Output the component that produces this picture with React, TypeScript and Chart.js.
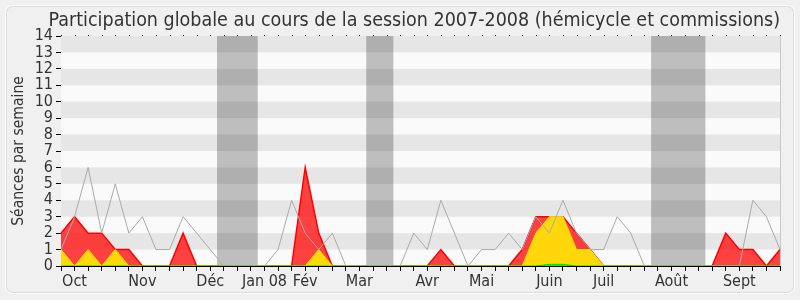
import React, { useEffect, useRef } from 'react';
import { Chart, registerables } from 'chart.js';

Chart.register(...registerables);

const FONT = "'DejaVu Sans Condensed', 'DejaVu Sans', sans-serif";

const titleText = 'Participation globale au cours de la session 2007-2008 (hémicycle et commissions)';
const yAxisTitle = 'Séances par semaine';

// 54 weeks of the session (index 0 .. 53)
const weekCount = 54;
const monthNames = ['Oct', 'Nov', 'Déc', 'Jan 08', 'Fév', 'Mar', 'Avr', 'Mai', 'Juin', 'Juil', 'Août', 'Sept'];
const monthWeekIndex = [1, 6, 11, 15, 18, 22, 27, 31, 36, 40, 45, 50];
const yTickValues = [0, 1, 2, 3, 4, 5, 6, 7, 8, 9, 10, 11, 12, 13, 14];

// holidays (in week index units)
const vacationStart = [11.5, 22.5, 43.5];
const vacationEnd = [14.5, 24.5, 47.5];

// red: total presence (hémicycle + commissions)
const totalPresence = [
  2, 3, 2, 2, 1, 1, 0, 0, 0, 2,
  0, 0, 0, 0, 0, 0, 0, 0, 6, 2,
  0, 0, 0, 0, 0, 0, 0, 0, 1, 0,
  0, 0, 0, 0, 1, 3, 3, 3, 2, 1,
  0, 0, 0, 0, 0, 0, 0, 0, 0, 2,
  1, 1, 0, 1,
];
// yellow: commission presence
const commissionPresence = [
  1, 0, 1, 0, 1, 0, 0, 0, 0, 0,
  0, 0, 0, 0, 0, 0, 0, 0, 0, 1,
  0, 0, 0, 0, 0, 0, 0, 0, 0, 0,
  0, 0, 0, 0, 0, 2, 3, 3, 1, 1,
  0, 0, 0, 0, 0, 0, 0, 0, 0, 0,
  0, 0, 0, 0,
];
// green: hémicycle interventions
const hemicycleInterventions = [
  0, 0, 0, 0, 0, 0, 0, 0, 0, 0,
  0, 0, 0, 0, 0, 0, 0, 0, 0, 0,
  0, 0, 0, 0, 0, 0, 0, 0, 0, 0,
  0, 0, 0, 0, 0, 0, 0.1, 0.1, 0, 0,
  0, 0, 0, 0, 0, 0, 0, 0, 0, 0,
  0, 0, 0, 0,
];
// gray: median of all deputies
const medianPresence = [
  1, 3, 6, 2, 5, 2, 3, 1, 1, 3,
  2, 1, 0, 0, 0, 0, 1, 4, 2, 1,
  2, 0, 0, 0, 0, 0, 2, 1, 4, 2,
  0, 1, 1, 2, 1, 3, 2, 4, 2, 1,
  1, 3, 2, 0, 0, 0, 0, 0, 0, 0,
  0, 4, 3, 1,
];

const weekLabels: string[] = [];
for (let i = 0; i < weekCount; i++) {
  const k = monthWeekIndex.indexOf(i);
  weekLabels.push(k >= 0 ? monthNames[k] : '');
}

const decorPlugin = {
  id: 'decor',
  beforeDraw(chart: any) {
    const { ctx, width, height } = chart;
    ctx.save();
    ctx.fillStyle = '#f0f0f0';
    ctx.fillRect(0, 0, width, height);
    ctx.strokeStyle = '#ffffff';
    ctx.lineWidth = 1;
    ctx.beginPath();
    (ctx as any).roundRect(5.5, 5.5, width - 11, height - 12, 6);
    ctx.stroke();
    ctx.strokeStyle = '#dcdcdc';
    ctx.beginPath();
    (ctx as any).roundRect(6.5, 6.5, width - 13, height - 14, 6);
    ctx.stroke();
    ctx.restore();
  },
  beforeDatasetsDraw(chart: any) {
    const { ctx, chartArea, scales } = chart;
    const { left, right, top, bottom } = chartArea;
    const x = scales.x;
    const y = scales.y;
    ctx.save();
    ctx.fillStyle = '#fafafa';
    ctx.fillRect(left, top, right - left, bottom - top);
    ctx.fillStyle = '#e6e6e6';
    for (let v = 1; v < 14; v += 2) {
      const y1 = y.getPixelForValue(v + 1);
      const y0 = y.getPixelForValue(v);
      ctx.fillRect(left, y1, right - left, y0 - y1);
    }
    ctx.fillStyle = 'rgba(0,0,0,0.24)';
    vacationStart.forEach((s, k) => {
      const x0 = x.getPixelForValue(s);
      const x1 = x.getPixelForValue(vacationEnd[k]);
      ctx.fillRect(x0, top, x1 - x0, bottom - top);
    });
    ctx.strokeStyle = '#c8c8c8';
    ctx.lineWidth = 1;
    ctx.beginPath();
    ctx.moveTo(Math.round(right) + 0.5, top);
    ctx.lineTo(Math.round(right) + 0.5, bottom);
    ctx.stroke();
    ctx.restore();
  },
  afterDraw(chart: any) {
    const { ctx, chartArea, scales } = chart;
    const x = scales.x;
    ctx.save();
    ctx.fillStyle = '#000';
    x.ticks.forEach((t: any) => {
      const px = Math.round(x.getPixelForValue(t.value));
      ctx.fillRect(px, chartArea.top - 1, 1, 1);
    });
    ctx.restore();
  },
};

export default function App() {
  const ref = useRef<HTMLCanvasElement>(null);

  useEffect(() => {
    if (!ref.current) return;
    Chart.defaults.font.family = FONT;
    const chart = new Chart(ref.current, {
      type: 'line',
      data: {
        labels: weekLabels,
        datasets: [
          {
            label: 'Médiane',
            data: medianPresence,
            borderColor: '#aaaaaa',
            borderWidth: 1,
            fill: false,
            pointRadius: 0,
            order: 0,
          },
          {
            label: 'Interventions',
            data: hemicycleInterventions,
            borderColor: '#00dd00',
            backgroundColor: '#00ff00',
            borderWidth: 1,
            fill: 'origin',
            pointRadius: 0,
            order: 1,
          },
          {
            label: 'Commissions',
            data: commissionPresence,
            borderColor: '#ffe600',
            backgroundColor: '#ffd70a',
            borderWidth: 1,
            fill: 'origin',
            pointRadius: 0,
            order: 2,
          },
          {
            label: 'Présence',
            data: totalPresence,
            borderColor: '#ff0000',
            backgroundColor: 'rgba(255,20,20,0.8)',
            borderWidth: 1.5,
            fill: 'origin',
            pointRadius: 0,
            order: 3,
          },
        ],
      },
      options: {
        animation: false,
        responsive: false,
        maintainAspectRatio: false,
        layout: { padding: { left: 0, right: 20, top: 0, bottom: 0 } },
        elements: { line: { tension: 0 }, point: { radius: 0 } },
        plugins: {
          legend: { display: false },
          tooltip: { enabled: false },
          title: {
            display: true,
            text: titleText,
            align: 'end',
            color: '#333',
            font: { family: FONT, size: 19.5, weight: 'normal' },
            padding: { top: 9, bottom: 3.6 },
          },
        },
        scales: {
          x: {
            type: 'category',
            offset: false,
            z: 1,
            grid: { display: true, drawOnChartArea: false, drawTicks: true, tickLength: 5, color: '#000' },
            border: { display: true, color: '#000', width: 1 },
            ticks: {
              autoSkip: false,
              maxRotation: 0,
              minRotation: 0,
              padding: 1,
              color: '#333',
              font: { family: FONT, size: 16 },
            },
            afterFit: (s: any) => { s.height = 34; },
          },
          y: {
            min: 0,
            max: 14,
            z: 1,
            grid: { display: true, drawOnChartArea: false, drawTicks: true, tickLength: 5, color: '#000' },
            border: { display: true, color: '#000', width: 1 },
            ticks: {
              autoSkip: false,
              padding: 3,
              color: '#333',
              font: { family: FONT, size: 16 },
            },
            afterBuildTicks: (s: any) => { s.ticks = yTickValues.map((v) => ({ value: v })); },
            title: {
              display: true,
              text: yAxisTitle,
              color: '#333',
              font: { family: FONT, size: 15.5 },
              padding: { top: 10, bottom: 0 },
            },
            afterFit: (s: any) => { s.width = 61; },
          },
        },
      },
      plugins: [decorPlugin],
    });
    return () => chart.destroy();
  }, []);

  return (
    <div style={{ position: 'absolute', left: 0, top: 0, width: 800, height: 300 }}>
      <canvas ref={ref} width={800} height={300} />
    </div>
  );
}
